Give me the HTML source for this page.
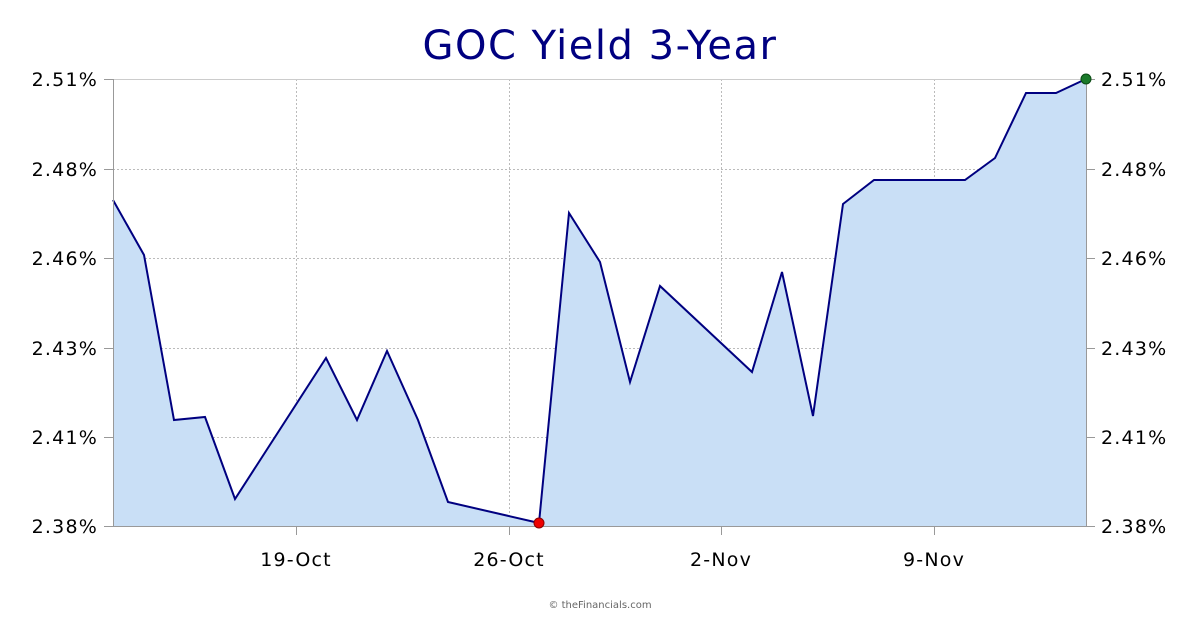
<!DOCTYPE html>
<html><head><meta charset="utf-8"><style>
html,body{margin:0;padding:0;background:#fff;}
svg{display:block;font-family:"DejaVu Sans","Liberation Sans",sans-serif;}
</style></head><body>
<svg width="1200" height="630" viewBox="0 0 1200 630" xmlns="http://www.w3.org/2000/svg">
<rect width="1200" height="630" fill="#fff"/>
<text x="600" y="59" text-anchor="middle" font-size="40" letter-spacing="1.5" fill="#000080">GOC Yield 3-Year</text>
<g stroke="#bbb" stroke-width="1" stroke-dasharray="2,2">
<line x1="296.5" y1="79" x2="296.5" y2="526"/>
<line x1="509.5" y1="79" x2="509.5" y2="526"/>
<line x1="721.5" y1="79" x2="721.5" y2="526"/>
<line x1="934.5" y1="79" x2="934.5" y2="526"/>
<line x1="113" y1="169.5" x2="1086" y2="169.5"/>
<line x1="113" y1="258.5" x2="1086" y2="258.5"/>
<line x1="113" y1="348.5" x2="1086" y2="348.5"/>
<line x1="113" y1="437.5" x2="1086" y2="437.5"/>
</g>
<line x1="113" y1="79.5" x2="1086" y2="79.5" stroke="#ccc"/>
<polygon fill="#c9dff6" points="113,526 113,200 144,255 174,420 205,417 235,499 326,358 357,420 387,351 418,420 448,502 539,523 569,213 600,262 630,382 660,286 752,372 782,272 813,416 843,204 874,180 965,180 995,158 1026,93 1056,93 1086,79 1086,526"/>
<polyline fill="none" stroke="#000080" stroke-width="2" points="113,200 144,255 174,420 205,417 235,499 326,358 357,420 387,351 418,420 448,502 539,523 569,213 600,262 630,382 660,286 752,372 782,272 813,416 843,204 874,180 965,180 995,158 1026,93 1056,93 1086,79"/>
<g stroke="#999" stroke-width="1">
<line x1="113.5" y1="79" x2="113.5" y2="526"/>
<line x1="1086.5" y1="79" x2="1086.5" y2="526"/>
<line x1="113" y1="526.5" x2="1086" y2="526.5"/>
<line x1="104" y1="79.5" x2="113" y2="79.5"/><line x1="104" y1="169.5" x2="113" y2="169.5"/><line x1="104" y1="258.5" x2="113" y2="258.5"/><line x1="104" y1="348.5" x2="113" y2="348.5"/><line x1="104" y1="437.5" x2="113" y2="437.5"/><line x1="104" y1="526.5" x2="113" y2="526.5"/>
<line x1="1086" y1="79.5" x2="1095" y2="79.5"/><line x1="1086" y1="169.5" x2="1095" y2="169.5"/><line x1="1086" y1="258.5" x2="1095" y2="258.5"/><line x1="1086" y1="348.5" x2="1095" y2="348.5"/><line x1="1086" y1="437.5" x2="1095" y2="437.5"/><line x1="1086" y1="526.5" x2="1095" y2="526.5"/>
<line x1="296.5" y1="526" x2="296.5" y2="535"/><line x1="509.5" y1="526" x2="509.5" y2="535"/><line x1="721.5" y1="526" x2="721.5" y2="535"/><line x1="934.5" y1="526" x2="934.5" y2="535"/>
</g>
<circle cx="539" cy="523" r="5" fill="#e00" stroke="#800" stroke-width="1"/>
<circle cx="1086" cy="79" r="5" fill="#1a7a2a" stroke="#0a4a14" stroke-width="1"/>
<g font-size="19" letter-spacing="1.2" fill="#000">
<g text-anchor="end">
<text x="98" y="86">2.51%</text><text x="98" y="176">2.48%</text><text x="98" y="265">2.46%</text><text x="98" y="355">2.43%</text><text x="98" y="444">2.41%</text><text x="98" y="533">2.38%</text>
</g>
<text x="1101" y="86">2.51%</text><text x="1101" y="176">2.48%</text><text x="1101" y="265">2.46%</text><text x="1101" y="355">2.43%</text><text x="1101" y="444">2.41%</text><text x="1101" y="533">2.38%</text>
<g text-anchor="middle">
<text x="296" y="566">19-Oct</text><text x="509" y="566">26-Oct</text><text x="721" y="566">2-Nov</text><text x="934" y="566">9-Nov</text>
</g>
</g>
<text x="600" y="608" text-anchor="middle" font-size="10" fill="#666">© theFinancials.com</text>
</svg>
</body></html>
